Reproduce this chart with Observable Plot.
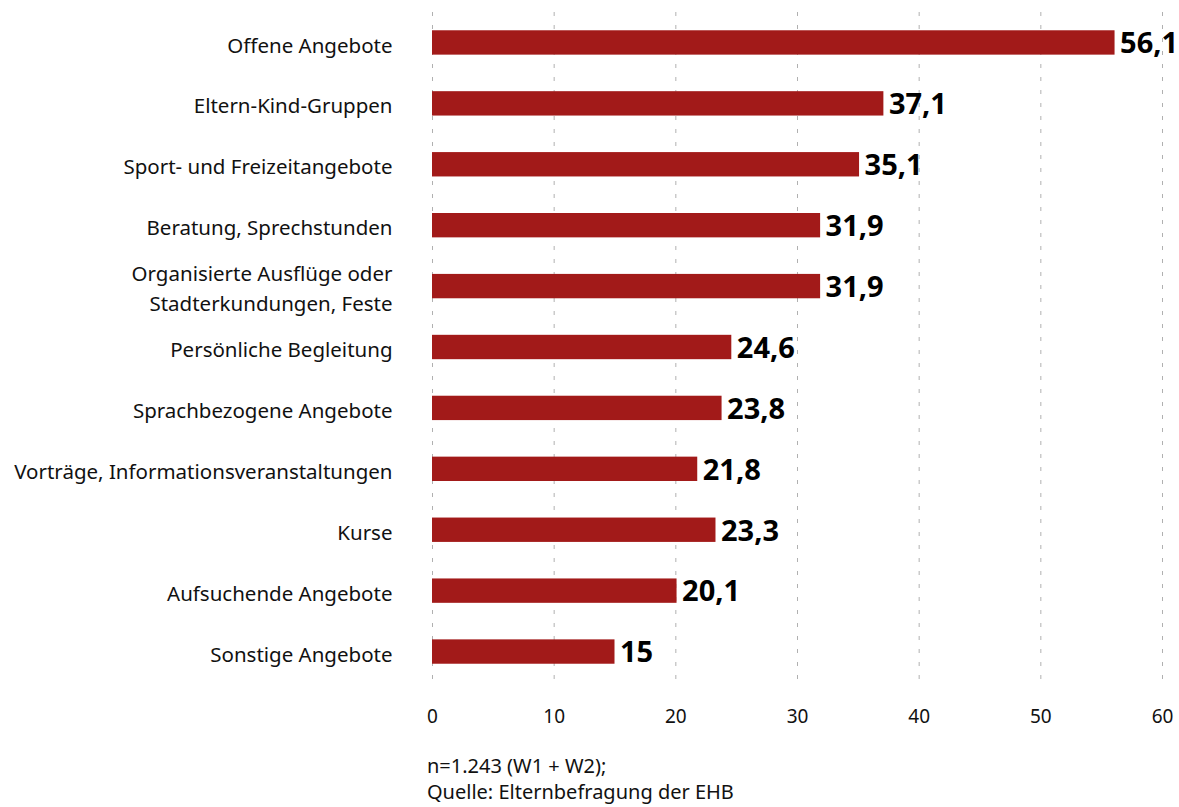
<!DOCTYPE html>
<html>
<head>
<meta charset="utf-8">
<script src="https://cdn.jsdelivr.net/npm/d3@7"></script>
<script src="https://cdn.jsdelivr.net/npm/@observablehq/plot@0.6"></script>
<style>
  body { margin: 0; background: #fff; font-family: "Noto Sans", sans-serif; }
  #caption { margin-left: 427px; margin-top: 8px; font-size: 20px; line-height: 26px; color: #111; }
</style>
</head>
<body>
<div id="chart"></div>
<div id="caption">n=1.243 (W1 + W2);<br>Quelle: Elternbefragung der EHB</div>
<script>
const categories = [
  "Offene Angebote",
  "Eltern-Kind-Gruppen",
  "Sport- und Freizeitangebote",
  "Beratung, Sprechstunden",
  "Organisierte Ausflüge oder\nStadterkundungen, Feste",
  "Persönliche Begleitung",
  "Sprachbezogene Angebote",
  "Vorträge, Informationsveranstaltungen",
  "Kurse",
  "Aufsuchende Angebote",
  "Sonstige Angebote"
];
const values = [56.1, 37.1, 35.1, 31.9, 31.9, 24.6, 23.8, 21.8, 23.3, 20.1, 15];
const xTicks = [0, 10, 20, 30, 40, 50, 60];

const data = categories.map((c, i) => ({category: c, value: values[i]}));
const fmt = v => String(v).replace(".", ",");

const chart = Plot.plot({
  width: 1179,
  height: 745,
  marginLeft: 432,
  marginRight: 17,
  marginTop: 12,
  marginBottom: 63,
  style: {fontFamily: "Noto Sans, sans-serif", color: "#111"},
  x: {domain: [0, 60], ticks: xTicks, label: null},
  y: {domain: categories, padding: 0.6, paddingOuter: 0.3, round: false, label: null},
  marks: [
    Plot.gridX(xTicks, {stroke: "#b0b0b0", strokeOpacity: 1, strokeDasharray: "4,9"}),
    Plot.barX(data, {x: "value", y: "category", fill: "#a21a19"}),
    Plot.text(data, {x: "value", y: "category", text: d => fmt(d.value), textAnchor: "start", dx: 5, dy: 1, fontSize: 29, fontWeight: "bold", fill: "#000"}),
    Plot.axisX({ticks: xTicks, tickSize: 0, tickPadding: 27, fontSize: 19, tickFormat: d => d, label: null}),
    Plot.axisY({tickSize: 0, tickPadding: 40, fontSize: 20.5, lineHeight: 1.46, label: null})
  ]
});
document.getElementById("chart").appendChild(chart);
</script>
</body>
</html>
